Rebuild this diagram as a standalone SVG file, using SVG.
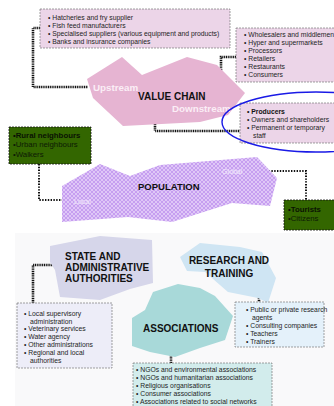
<svg xmlns="http://www.w3.org/2000/svg" width="334" height="406" viewBox="0 0 334 406">
<style>
.box{stroke:#7a7a7a;stroke-width:0.7;stroke-dasharray:2 1}
.li{font-family:"Liberation Sans",Arial,sans-serif;font-size:6.8px;fill:#1e1e1e}
.lb{font-family:"Liberation Sans",Arial,sans-serif;font-size:6.8px;fill:#111;font-weight:bold}
.gl{font-family:"Liberation Sans",Arial,sans-serif;font-size:7.8px;fill:#0d1a05}
.gb{font-family:"Liberation Sans",Arial,sans-serif;font-size:7.8px;fill:#0a1203;font-weight:bold}
.ti{font-family:"Liberation Sans",Arial,sans-serif;font-size:10px;font-weight:bold;fill:#111}
.wt{font-family:"Liberation Sans",Arial,sans-serif;font-size:9.8px;font-weight:bold;fill:#fbeef6}
.pt{font-family:"Liberation Sans",Arial,sans-serif;font-size:7px;fill:#f2eafc}
.chk{fill:none;stroke:#111;stroke-width:2.6;stroke-dasharray:1.1 0.7}
.dot{fill:none;stroke:#111;stroke-width:2;stroke-dasharray:1.4 1.4}
.green{fill:#336600;stroke:#111;stroke-width:0.8;stroke-dasharray:2 1}
</style>
<defs>
<pattern id="pop" width="4" height="4" patternUnits="userSpaceOnUse">
<rect width="4" height="4" fill="#c69ef0"/>
<path d="M0 2 L2 0 L4 2 L2 4 Z" fill="none" stroke="#ead9fb" stroke-width="0.7"/>
</pattern>
</defs>
<rect width="334" height="406" fill="#ffffff"/>
<rect x="15" y="233" width="319" height="173" fill="#f9f9fa"/>

<g id="connectors">
<path class="chk" d="M40 28 H33 V87 H88"/>
<path class="chk" d="M236 57 H221 V95"/>
<path class="chk" d="M155 106 V131 H240"/>
<path class="dot" d="M39 164 V200 H68"/>
<path class="dot" d="M263 171 H306 V200"/>
<path class="chk" d="M63 265 H33 V303"/>
<path class="chk" d="M259 273 V302"/>
<path class="chk" d="M171 335 V363"/>
</g>

<g id="upstream-suppliers">
<rect class="box" x="40" y="9" width="190" height="39" fill="#ecd5e8"/>
<text class="li" x="48" y="19.5">• Hatcheries and fry supplier</text>
<text class="li" x="48" y="27.5">• Fish feed manufacturers</text>
<text class="li" x="48" y="35.5">• Specialised suppliers (various equipment and products)</text>
<text class="li" x="48" y="43.5">• Banks and insurance companies</text>
</g>

<g id="downstream-actors">
<rect class="box" x="236" y="28" width="104" height="54" fill="#ecd5e8"/>
<text class="li" x="244" y="36.5">• Wholesalers and middlemen</text>
<text class="li" x="244" y="44.5">• Hyper and supermarkets</text>
<text class="li" x="244" y="52.5">• Processors</text>
<text class="li" x="244" y="60.5">• Retailers</text>
<text class="li" x="244" y="68.5">• Restaurants</text>
<text class="li" x="244" y="76.5">• Consumers</text>
</g>

<g id="value-chain">
<polygon points="87,79 122,57 142,75 187,57 217,65 245,93 228,115 200,122 123,126 93,98" fill="#e6b4d2"/>
<text class="wt" x="93" y="91">Upstream</text>
<text class="ti" x="138" y="100">VALUE CHAIN</text>
<text class="wt" x="172" y="112">Downstream</text>
</g>

<g id="producers">
<rect class="box" x="240" y="103" width="100" height="40" fill="#ecd5e8"/>
<text class="lb" x="247" y="114">• Producers</text>
<text class="li" x="247" y="122">• Owners and shareholders</text>
<text class="li" x="247" y="130">• Permanent or temporary</text>
<text class="li" x="253" y="138">staff</text>
<ellipse cx="316" cy="122" rx="94" ry="30" fill="none" stroke="#1a1ae6" stroke-width="1.4"/>
</g>

<g id="local-population">
<rect class="green" x="9" y="127" width="82" height="37"/>
<text class="gb" x="13" y="138">•Rural neighbours</text>
<text class="gl" x="13" y="147">•Urban neighbours</text>
<text class="gl" x="13" y="156.5">•Walkers</text>
</g>

<g id="population">
<polygon points="62,186 100,164 130,176 160,165 257,157 277,178 270,206 232,203 172,222 128,217 62,222" fill="url(#pop)"/>
<text class="ti" x="138" y="190" style="font-size:9.5px">POPULATION</text>
<text class="pt" x="222" y="174">Global</text>
<text class="pt" x="74" y="204">Local</text>
</g>

<g id="global-population">
<rect class="green" x="284" y="200" width="56" height="30"/>
<text class="gb" x="288" y="211.5">•Tourists</text>
<text class="gl" x="288" y="220.5">•Citizens</text>
</g>

<g id="state">
<polygon points="50,246 100,236 152,240 153,283 130,289 100,300 60,297 55,270 50,262" fill="#d6d6ea"/>
<text class="ti" x="65" y="260">STATE AND</text>
<text class="ti" x="65" y="271">ADMINISTRATIVE</text>
<text class="ti" x="65" y="282">AUTHORITIES</text>
</g>

<g id="state-list">
<rect class="box" x="17" y="303" width="95" height="65" fill="#ededf8"/>
<text class="li" x="24" y="315.5">• Local supervisory</text>
<text class="li" x="30" y="323.5">administration</text>
<text class="li" x="24" y="331">• Veterinary services</text>
<text class="li" x="24" y="338.5">• Water agency</text>
<text class="li" x="24" y="346.5">• Other administrations</text>
<text class="li" x="24" y="354.5">• Regional and local</text>
<text class="li" x="30" y="362.5">authorities</text>
</g>

<g id="research">
<polygon points="200,243 240,247 262,252 276,278 268,303 258,298 228,292 205,272 187,271 180,257" fill="#cfe5f3"/>
<text class="ti" x="229" y="264" text-anchor="middle">RESEARCH AND</text>
<text class="ti" x="229" y="277" text-anchor="middle">TRAINING</text>
</g>

<g id="research-list">
<rect class="box" x="235" y="302" width="89" height="45" fill="#e4f1fa"/>
<text class="li" x="246" y="312">• Public or private research</text>
<text class="li" x="252" y="320">agents</text>
<text class="li" x="246" y="327.5">• Consulting companies</text>
<text class="li" x="246" y="335.5">• Teachers</text>
<text class="li" x="246" y="343.5">• Trainers</text>
</g>

<g id="associations">
<polygon points="153,292 178,284 200,288 215,296 233,316 225,340 200,348 175,357 150,352 132,346 132,318 145,310" fill="#a8d9d9"/>
<text class="ti" x="143" y="332">ASSOCIATIONS</text>
</g>

<g id="associations-list">
<rect class="box" x="133" y="363" width="139" height="46" fill="#d2ecec"/>
<text class="li" x="136" y="372">• NGOs and environmental associations</text>
<text class="li" x="136" y="380">• NGOs and humanitarian associations</text>
<text class="li" x="136" y="388">• Religious organisations</text>
<text class="li" x="136" y="396">• Consumer associations</text>
<text class="li" x="136" y="404">• Associations related to social networks</text>
</g>
</svg>
